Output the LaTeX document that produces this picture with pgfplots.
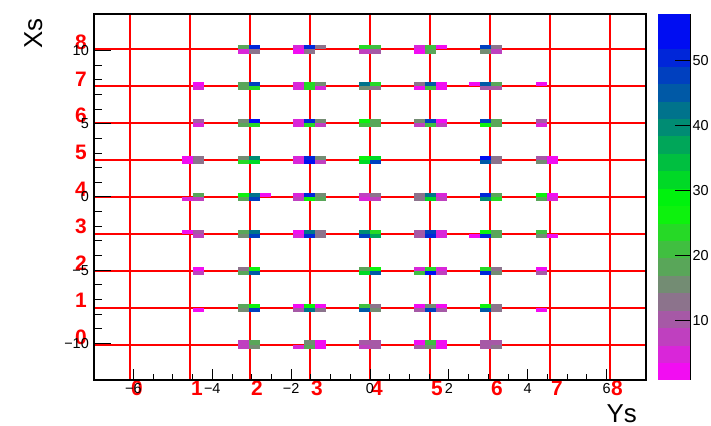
\documentclass[border=0pt]{standalone}
\usepackage{fontspec}
\setmainfont{Liberation Sans}
\usepackage{pgfplots}
\pgfplotsset{compat=1.18}
\pgfdeclareplotmark{cell}{\pgfpathrectangle{\pgfpoint{-5.52bp}{-2.05bp}}{\pgfpoint{11.04bp}{4.1bp}}\pgfusepathqfill}
\pgfplotsset{
  colormap={rootpal}{rgb=(0.95,0.05,0.95) rgb=(0.85,0.15,0.85) rgb=(0.75,0.25,0.75) rgb=(0.65,0.35,0.65)
   rgb=(0.55,0.45,0.55) rgb=(0.45,0.55,0.45) rgb=(0.35,0.65,0.35) rgb=(0.25,0.75,0.25)
   rgb=(0.15,0.85,0.15) rgb=(0.05,0.95,0.05) rgb=(0,0.95,0.05) rgb=(0,0.85,0.15)
   rgb=(0,0.75,0.25) rgb=(0,0.65,0.35) rgb=(0,0.55,0.45) rgb=(0,0.45,0.55)
   rgb=(0,0.35,0.65) rgb=(0,0.25,0.75) rgb=(0,0.15,0.85) rgb=(0,0.05,0.95) rgb=(0,0.05,0.95)}
}
\newcommand{\tickfont}{\fontsize{14.5}{14.5}\selectfont}
\newcommand{\redfont}{\fontsize{21}{21}\selectfont\bfseries}
\begin{document}
\begin{tikzpicture}
\useasboundingbox (0,0) rectangle (711bp,426bp);
\begin{axis}[
  at={(94bp,46bp)}, anchor=south west,
  scale only axis, width=552bp, height=366bp,
  xmin=-7, xmax=7, ymin=-12.5, ymax=12.5,
  axis on top, clip=false,
  colormap name=rootpal,
  colormap access=piecewise constant,
  point meta min=0.9, point meta max=57.2,
  tick pos=left, tick align=inside,
  xtick={-6,-4,-2,0,2,4,6}, xticklabels={−6,−4,−2,0,2,4,6},
  minor x tick num=3,
  ytick={-10,-5,0,5,10}, yticklabels={−10,−5,0,5,10},
  minor y tick num=4,
  xtick style={/pgfplots/major tick length=11bp, /pgfplots/minor tick length=5.5bp, line width=1bp, black},
  ytick style={/pgfplots/major tick length=16.5bp, /pgfplots/minor tick length=8.3bp, line width=1bp, black},
  axis line style={line width=1.6bp, black},
  xticklabel style={font=\tickfont, inner sep=0pt, anchor=north, yshift=-3bp},
  yticklabel style={font=\tickfont, inner sep=0pt, anchor=east, xshift=-5bp},
  xlabel={Ys}, ylabel={Xs},
  every axis x label/.style={at={(axis description cs:0.9837,-0.1148)}, anchor=base east, inner sep=0pt, font=\fontsize{26}{26}\selectfont},
  every axis y label/.style={at={(axis description cs:-0.0942,0.989)}, rotate=90, anchor=base east, inner sep=0pt, font=\fontsize{26}{26}\selectfont},
  colorbar,
  colorbar style={
    at={(parent axis.north east)}, anchor=north west, xshift=3bp,
    width=33bp,
    axis on top,
    ytick={10,20,30,40,50},
    yticklabels={10,20,30,40,50},
    minor y tick num=0,
    axis x line=none,
    axis y line*=right,
    tick align=inside,
    ytick style={/pgfplots/major tick length=16bp, line width=1bp, black},
    every tick label/.append style={font=\tickfont},
    yticklabel style={font=\tickfont, inner sep=0pt, xshift=2bp},
    axis line style={line width=1.2bp, black},
  },
]
\addplot[scatter, only marks, mark=cell, point meta=explicit,
  scatter/use mapped color={fill=mapped color, draw=none}] table[meta=z] {
x y z
-3.22 10.22 19
-2.94 10.22 50
-3.22 9.94 5
-2.94 9.94 13.5
-1.82 10.22 5
-1.54 10.22 50
-1.26 10.22 13.5
-1.82 9.94 2
-1.54 9.94 13.5
-0.14 10.22 25
0.14 10.22 22
-0.14 9.94 8
0.14 9.94 11
1.26 10.22 5
1.54 10.22 22
1.82 10.22 3
1.26 9.94 2
1.54 9.94 19
2.94 10.22 47
3.22 10.22 13.5
2.94 9.94 16.5
3.22 9.94 8
-4.34 7.70 2
-4.34 7.42 5
-3.22 7.70 19
-2.94 7.70 47
-3.22 7.42 19
-2.94 7.42 25
-1.82 7.70 5
-1.54 7.70 25
-1.26 7.70 16.5
-1.82 7.42 5
-1.54 7.42 25
-1.26 7.42 5
-0.14 7.70 42
0.14 7.70 25
-0.14 7.42 16.5
0.14 7.42 13.5
1.26 7.70 13.5
1.54 7.70 44.5
1.82 7.70 2
1.26 7.42 2
1.54 7.42 22
1.82 7.42 2
2.66 7.70 2
2.94 7.70 44.5
3.22 7.70 19
2.94 7.42 11
3.22 7.42 11
4.34 7.70 2
-4.34 5.18 11
-4.34 4.90 5
-3.22 5.18 16.5
-2.94 5.18 53
-3.22 4.90 19
-2.94 4.90 25
-1.82 5.18 5
-1.54 5.18 50
-1.26 5.18 16.5
-1.82 4.90 5
-1.54 4.90 25
-1.26 4.90 8
-0.14 5.18 27.5
0.14 5.18 19
-0.14 4.90 22
0.14 4.90 19
1.26 5.18 16.5
1.54 5.18 47
1.82 5.18 2
1.26 4.90 8
1.54 4.90 22
1.82 4.90 8
2.94 5.18 47
3.22 5.18 19
2.94 4.90 27.5
3.22 4.90 19
4.34 5.18 11
4.34 4.90 5
-4.62 2.66 2
-4.62 2.38 2
-4.34 2.66 13.5
-4.34 2.38 13.5
-3.22 2.66 16.5
-2.94 2.66 39
-3.22 2.38 25
-2.94 2.38 33
-1.82 2.66 5
-1.54 2.66 50
-1.26 2.66 16.5
-1.82 2.38 5
-1.54 2.38 56
-1.26 2.38 8
-0.14 2.66 27.5
0.14 2.66 30.5
-0.14 2.38 30.5
0.14 2.38 48
2.94 2.66 56
3.22 2.66 13.5
2.94 2.38 44.5
3.22 2.38 13.5
4.34 2.66 11
4.62 2.66 2
4.34 2.38 16.5
4.62 2.38 2
-4.62 -0.14 5
-4.34 0.14 19
-4.34 -0.14 8
-3.22 0.14 27.5
-2.94 0.14 42
-2.66 0.14 2
-3.22 -0.14 19
-2.94 -0.14 48
-1.82 0.14 5
-1.54 0.14 50
-1.26 0.14 16.5
-1.82 -0.14 8
-1.54 -0.14 27.5
-1.26 -0.14 19
-0.14 0.14 8
0.14 0.14 13.5
-0.14 -0.14 5
0.14 -0.14 8
1.26 0.14 13.5
1.54 0.14 42
1.82 0.14 5
1.26 -0.14 13.5
1.54 -0.14 33
1.82 -0.14 8
2.94 0.14 50
3.22 0.14 19
2.94 -0.14 39
3.22 -0.14 25
4.34 0.14 27.5
4.62 0.14 2
4.34 -0.14 19
4.62 -0.14 5
-4.62 -2.38 2
-4.34 -2.38 11
-4.34 -2.66 8
-3.22 -2.38 19
-2.94 -2.38 42
-3.22 -2.66 16.5
-2.94 -2.66 47
-1.82 -2.38 2
-1.54 -2.38 42
-1.26 -2.38 13.5
-1.82 -2.66 5
-1.54 -2.66 50
-1.26 -2.66 13.5
-0.14 -2.38 39
0.14 -2.38 25
-0.14 -2.66 48
0.14 -2.66 36
1.26 -2.38 11
1.54 -2.38 47
1.82 -2.38 5
1.26 -2.66 11
1.54 -2.66 50
1.82 -2.66 5
2.66 -2.66 2
2.94 -2.38 27.5
3.22 -2.38 19
2.94 -2.66 50
3.22 -2.66 19
4.34 -2.38 22
4.34 -2.66 16.5
4.62 -2.66 2
-4.34 -4.90 2
-4.34 -5.18 8
-3.22 -4.90 13.5
-2.94 -4.90 27.5
-3.22 -5.18 19
-2.94 -5.18 44.5
-0.14 -4.90 19
0.14 -4.90 27.5
-0.14 -5.18 30.5
0.14 -5.18 44.5
1.26 -4.90 5
1.54 -4.90 25
1.82 -4.90 5
1.26 -5.18 22
1.54 -5.18 53
1.82 -5.18 8
2.94 -4.90 25
3.22 -4.90 13.5
2.94 -5.18 50
3.22 -5.18 16.5
4.34 -4.90 2
4.34 -5.18 11
-4.34 -7.70 2
-3.22 -7.42 19
-2.94 -7.42 27.5
-3.22 -7.70 16.5
-2.94 -7.70 48
-1.82 -7.42 2
-1.54 -7.42 27.5
-1.26 -7.42 2
-1.82 -7.70 11
-1.54 -7.70 42
-1.26 -7.70 13.5
-0.14 -7.42 22
0.14 -7.42 13.5
-0.14 -7.70 44.5
0.14 -7.70 16.5
1.26 -7.42 2
1.54 -7.42 16.5
1.82 -7.42 2
1.26 -7.70 11
1.54 -7.70 47
1.82 -7.70 11
2.94 -7.42 27.5
3.22 -7.42 13.5
2.94 -7.70 44.5
3.22 -7.70 13.5
4.34 -7.70 2
-3.22 -9.94 8
-2.94 -9.94 19
-3.22 -10.22 8
-2.94 -10.22 16.5
-1.82 -10.22 5
-1.54 -9.94 16.5
-1.54 -10.22 19
-1.26 -9.94 2
-1.26 -10.22 2
-0.14 -9.94 11
0.14 -9.94 11
-0.14 -10.22 8
0.14 -10.22 11
1.26 -9.94 2
1.54 -9.94 22
1.82 -9.94 2
1.26 -10.22 11
1.54 -10.22 16.5
1.82 -10.22 2
2.94 -9.94 11
3.22 -9.94 11
2.94 -10.22 11
3.22 -10.22 13.5
};
% red reference grid
\addplot[red, line width=2bp, forget plot, unbounded coords=jump] coordinates {
(-6.087,-12.5) (-6.087,12.5) (-6.087,nan)
(-4.565,-12.5) (-4.565,12.5) (-4.565,nan)
(-3.043,-12.5) (-3.043,12.5) (-3.043,nan)
(-1.522,-12.5) (-1.522,12.5) (-1.522,nan)
(0,-12.5) (0,12.5) (0,nan)
(1.522,-12.5) (1.522,12.5) (1.522,nan)
(3.043,-12.5) (3.043,12.5) (3.043,nan)
(4.565,-12.5) (4.565,12.5) (4.565,nan)
(6.087,-12.5) (6.087,12.5) (6.087,nan)
(-7,-10.08) (7,-10.08) (nan,-10.08)
(-7,-7.56) (7,-7.56) (nan,-7.56)
(-7,-5.04) (7,-5.04) (nan,-5.04)
(-7,-2.52) (7,-2.52) (nan,-2.52)
(-7,0) (7,0) (nan,0)
(-7,2.52) (7,2.52) (nan,2.52)
(-7,5.04) (7,5.04) (nan,5.04)
(-7,7.56) (7,7.56) (nan,7.56)
(-7,10.08) (7,10.08)
};
% red index labels
\begin{scope}[every node/.style={text=red, font=\redfont, inner sep=0pt}]
\node[anchor=north west, xshift=1bp, yshift=-1bp] at (axis cs:-6.087,-12.5) {0};
\node[anchor=north west, xshift=1bp, yshift=-1bp] at (axis cs:-4.565,-12.5) {1};
\node[anchor=north west, xshift=1bp, yshift=-1bp] at (axis cs:-3.043,-12.5) {2};
\node[anchor=north west, xshift=1bp, yshift=-1bp] at (axis cs:-1.522,-12.5) {3};
\node[anchor=north west, xshift=1bp, yshift=-1bp] at (axis cs:0,-12.5) {4};
\node[anchor=north west, xshift=1bp, yshift=-1bp] at (axis cs:1.522,-12.5) {5};
\node[anchor=north west, xshift=1bp, yshift=-1bp] at (axis cs:3.043,-12.5) {6};
\node[anchor=north west, xshift=1bp, yshift=-1bp] at (axis cs:4.565,-12.5) {7};
\node[anchor=north west, xshift=1bp, yshift=-1bp] at (axis cs:6.087,-12.5) {8};
\node[anchor=south east, xshift=-7bp] at (axis cs:-7,-10.08) {0};
\node[anchor=south east, xshift=-7bp] at (axis cs:-7,-7.56) {1};
\node[anchor=south east, xshift=-7bp] at (axis cs:-7,-5.04) {2};
\node[anchor=south east, xshift=-7bp] at (axis cs:-7,-2.52) {3};
\node[anchor=south east, xshift=-7bp] at (axis cs:-7,0) {4};
\node[anchor=south east, xshift=-7bp] at (axis cs:-7,2.52) {5};
\node[anchor=south east, xshift=-7bp] at (axis cs:-7,5.04) {6};
\node[anchor=south east, xshift=-7bp] at (axis cs:-7,7.56) {7};
\node[anchor=south east, xshift=-7bp] at (axis cs:-7,10.08) {8};
\end{scope}
\end{axis}
\end{tikzpicture}
\end{document}
